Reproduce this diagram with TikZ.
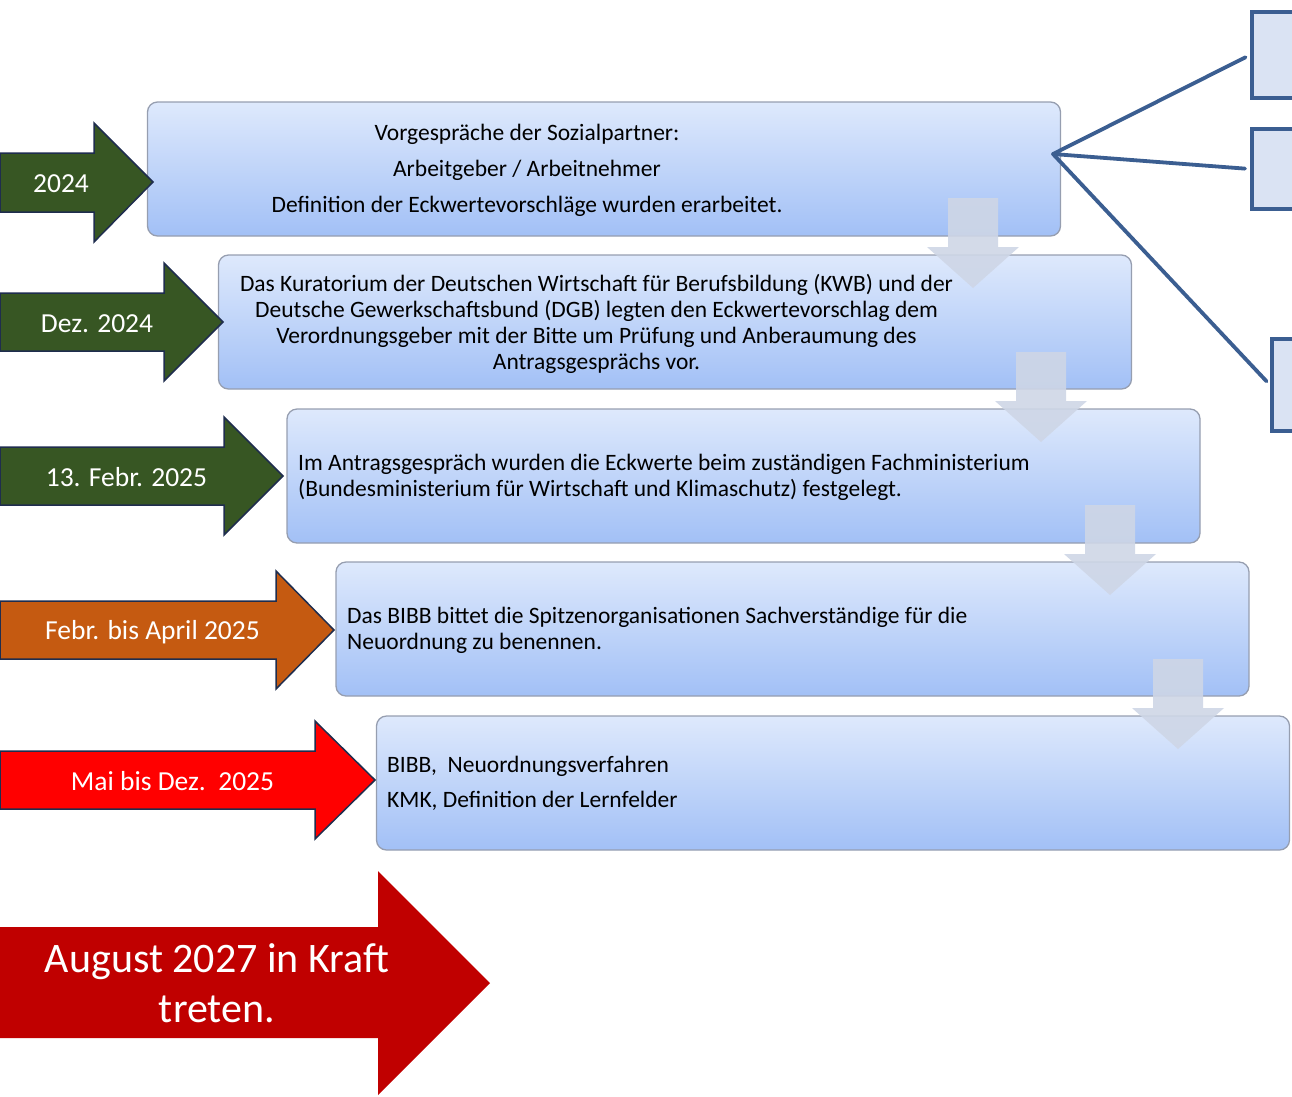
\documentclass[tikz,border=0pt]{standalone}
\usepackage{fontspec}
\setmainfont{Carlito}
\definecolor{boxtop}{RGB}{222,233,252}
\definecolor{boxbot}{RGB}{162,192,246}
\definecolor{boxedge}{RGB}{150,158,176}
\definecolor{darrow}{RGB}{206,214,230}
\definecolor{arrgreen}{RGB}{55,86,35}
\definecolor{arrorange}{RGB}{197,90,17}
\definecolor{arrred}{RGB}{255,0,0}
\definecolor{arrdark}{RGB}{192,0,0}
\definecolor{arredge}{RGB}{31,45,78}
\definecolor{linkblue}{RGB}{59,94,145}
\definecolor{sidefill}{RGB}{218,227,243}
\begin{document}
\begin{tikzpicture}[x=1pt,y=-1pt,
  stagebox/.style={draw=boxedge, line width=1.3pt, rounded corners=10pt,
    top color=boxtop, bottom color=boxbot, minimum width=913pt,
    minimum height=134pt, inner sep=0pt},
  sidebox/.style={draw=linkblue, line width=4pt, fill=sidefill, anchor=west,
    minimum width=120pt, inner sep=0pt},
  linkline/.style={draw=linkblue, line width=3.8pt, line cap=round, shorten >=5pt},
  tlarrow/.style={draw=arredge, line width=1.5pt, line join=miter},
  dnarrow/.style={fill=darrow, fill opacity=0.9},
  boxtext/.style={inner sep=0pt, font=\fontsize{23.5}{25.8}\selectfont},
  arrtext/.style={inner sep=0pt, text=white, font=\fontsize{27.5}{32}\selectfont}
]
\useasboundingbox (0,0) rectangle (1292,1096);

% stage boxes
\node[stagebox] (b1) at (604,169) {};
\node[stagebox] (b2) at (675,322) {};
\node[stagebox] (b3) at (743.5,476) {};
\node[stagebox] (b4) at (792.5,629) {};
\node[stagebox] (b5) at (833,783) {};

% down block arrows between the boxes
\foreach \cx/\ty in {973/198, 1041/352, 1110/505, 1178/659}{
  \path[dnarrow] (\cx-25,\ty) -- (\cx+25,\ty) -- (\cx+25,\ty+49) -- (\cx+46,\ty+49)
    -- (\cx,\ty+90) -- (\cx-46,\ty+49) -- (\cx-25,\ty+49) -- cycle;
}

% texts of the boxes
\node[boxtext, align=center, font=\fontsize{23.5}{36}\selectfont] (t1) at (527,170.5)
  {Vorgespräche der Sozialpartner:\\Arbeitgeber / Arbeitnehmer\\Definition der Eckwertevorschläge wurden erarbeitet.};
\node[boxtext, align=center] (t2) at (596.5,324)
  {Das Kuratorium der Deutschen Wirtschaft für Berufsbildung (KWB) und der\\Deutsche Gewerkschaftsbund (DGB) legten den Eckwertevorschlag dem\\Verordnungsgeber mit der Bitte um Prüfung und Anberaumung des\\Antragsgesprächs vor.};
\node[boxtext, align=left, anchor=west] (t3) at (298,477)
  {Im Antragsgespräch wurden die Eckwerte beim zuständigen Fachministerium\\(Bundesministerium für Wirtschaft und Klimaschutz) festgelegt.};
\node[boxtext, align=left, anchor=west] (t4) at (347,630.5)
  {Das BIBB bittet die Spitzenorganisationen Sachverständige für die\\Neuordnung zu benennen.};
\node[boxtext, align=left, anchor=west, font=\fontsize{23.5}{35}\selectfont] (t5) at (387,783.5)
  {BIBB,\ \ Neuordnungsverfahren\\KMK, Definition der Lernfelder};

% side boxes and links
\node[sidebox, minimum height=86pt] (r1) at (1250,55) {};
\node[sidebox, minimum height=80pt] (r2) at (1250,169) {};
\node[sidebox, minimum height=92pt] (r3) at (1270,385) {};
\coordinate (hub) at (1053,154);
\draw[linkline] (hub) -- (r1.west);
\draw[linkline] (hub) -- (r2.west);
\draw[linkline] (hub) -- (r3.west);

% timeline arrows
\path[tlarrow, fill=arrgreen] (0,153) -- (94,153) -- (94,123) -- (153,182) -- (94,242) -- (94,212) -- (0,212) -- cycle;
\path[tlarrow, fill=arrgreen] (0,293) -- (164,293) -- (164,263) -- (223,322) -- (164,381) -- (164,351) -- (0,351) -- cycle;
\path[tlarrow, fill=arrgreen] (0,447) -- (224,447) -- (224,417) -- (283,476) -- (224,535) -- (224,505) -- (0,505) -- cycle;
\path[tlarrow, fill=arrorange] (0,601) -- (276,601) -- (276,571) -- (334,630) -- (276,689) -- (276,659) -- (0,659) -- cycle;
\path[tlarrow, fill=arrred] (0,751) -- (315,751) -- (315,721) -- (375,780) -- (315,839) -- (315,809) -- (0,809) -- cycle;
\path[fill=arrdark] (0,927) -- (378,927) -- (378,871) -- (490,983) -- (378,1095) -- (378,1038) -- (0,1038) -- cycle;

\node[arrtext] (a1) at (61,184) {2024};
\node[arrtext] (a2) at (97,324) {Dez. 2024};
\node[arrtext] (a3) at (126.5,477) {13. Febr. 2025};
\node[arrtext] (a4) at (152.5,632) {Febr. bis April 2025};
\node[arrtext] (a5) at (172.5,781.5) {Mai bis Dez.\ \ 2025};
\node[arrtext, align=center, font=\fontsize{42}{50}\selectfont] (a6) at (217,983.5)
  {August 2027 in Kraft\\treten.};
\end{tikzpicture}
\end{document}
